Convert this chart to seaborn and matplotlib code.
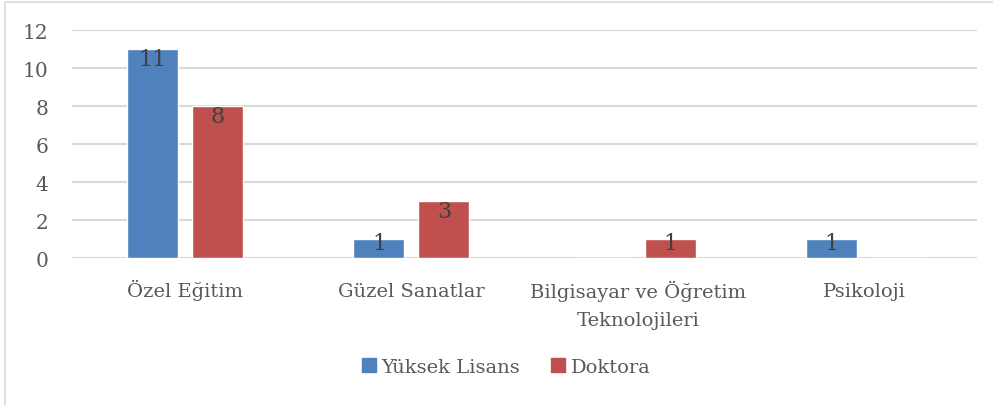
import matplotlib
matplotlib.use("Agg")
import matplotlib.pyplot as plt
import matplotlib.patches as mpatches
import pandas as pd
import seaborn as sns

kategoriler = ["Özel Eğitim", "Güzel Sanatlar", "Bilgisayar ve Öğretim\nTeknolojileri", "Psikoloji"]
seriler = ["Yüksek Lisans", "Doktora"]
yuksek_lisans = [11, 1, 0, 1]
doktora = [8, 3, 1, 0]
renkler = ["#4F81BD", "#C0504D"]

df = pd.DataFrame({
    "kategori": kategoriler * 2,
    "seri": [seriler[0]] * 4 + [seriler[1]] * 4,
    "deger": yuksek_lisans + doktora,
})

sns.set_style("white")
plt.rcParams["font.family"] = ["DejaVu Serif"]

fig = plt.figure(figsize=(9.93, 4.06), dpi=100)
ax = fig.add_axes([0.0725, 0.362, 0.984 - 0.0725, 0.9236 - 0.362])

sns.barplot(data=df, x="kategori", y="deger", hue="seri", palette=renkler,
            width=0.575, gap=0.217, saturation=1, ax=ax, legend=False, zorder=3)

ax.set_ylim(0, 12)
ax.set_yticks(range(0, 13, 2))
ax.grid(axis="y", color="#d9d9d9", linewidth=1.5, zorder=0)
ax.set_axisbelow(True)
for s in ax.spines.values():
    s.set_visible(False)
ax.set_xlabel("")
ax.set_ylabel("")
ax.tick_params(axis="y", length=0, pad=17, labelsize=14.5, labelcolor="#595959")
ax.tick_params(axis="x", length=0, pad=27, labelsize=14, labelcolor="#595959")

# ayni taban cizgisi; iki satirli etiket ikinci satir kadar asagi
ax_h = (0.9236 - 0.362) * 406
for t in ax.get_xticklabels():
    t.set_verticalalignment("baseline")
    t.set_linespacing(1.7)
    n = t.get_text().count("\n")
    if n:
        t.set_y(-29 * n / ax_h)

# etiketler
for cont in ax.containers:
    for bar in cont:
        h = bar.get_height()
        if h <= 0:
            continue
        x = bar.get_x() + bar.get_width() / 2
        if h >= 2:
            ax.annotate(f"{int(h)}", (x, h), xytext=(0, 0.5), textcoords="offset points",
                        ha="center", va="top", fontsize=16, color="#404040", zorder=4)
        else:
            ax.annotate(f"{int(h)}", (x, h / 2), xytext=(0, 4), textcoords="offset points",
                        ha="center", va="center", fontsize=16, color="#404040", zorder=4)

handles = [mpatches.Patch(color=c, label=l) for c, l in zip(renkler, seriler)]
fig.legend(handles=handles, loc="center", bbox_to_anchor=(0.51, 1 - 368 / 406), ncol=2,
           frameon=False, fontsize=14, labelcolor="#595959", handlelength=0.7,
           handleheight=0.7, handletextpad=0.3, columnspacing=1.6)

fig.add_artist(mpatches.Rectangle((5 / 993, -0.1), 1.2, 1.1 - 3 / 406,
                                  transform=fig.transFigure, fill=False,
                                  edgecolor="#d9d9d9", linewidth=1.2))

fig.savefig("out.png", dpi=100)
